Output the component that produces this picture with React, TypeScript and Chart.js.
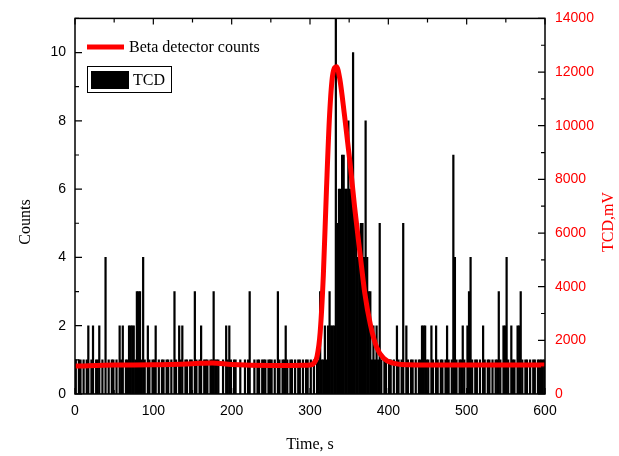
import React, { useEffect, useRef } from "react";
import { Chart, registerables } from "chart.js";

Chart.register(...registerables);

// TCD histogram: counts per 2-second bin, 0..600 s
const binSeconds = 2;
const counts: number[] = [
  // 0-20
  1, 0, 1, 1, 0, 1, 0, 1, 2, 0,
  // 20-40
  1, 2, 0, 1, 1, 2, 0, 1, 0, 4,
  // 40-60
  0, 1, 0, 1, 1, 0, 1, 0, 2, 1,
  // 60-80
  2, 0, 1, 1, 2, 2, 2, 2, 1, 3,
  // 80-100
  3, 3, 1, 4, 1, 0, 2, 1, 0, 1,
  // 100-120
  1, 2, 0, 1, 0, 1, 1, 0, 1, 1,
  // 120-140
  0, 1, 0, 3, 1, 0, 2, 1, 2, 0,
  // 140-160
  1, 1, 0, 1, 1, 0, 3, 1, 0, 1,
  // 160-180
  2, 0, 1, 1, 1, 0, 1, 1, 3, 1,
  // 180-200
  1, 1, 0, 0, 1, 0, 2, 1, 2, 1,
  // 200-220
  0, 1, 1, 0, 0, 1, 0, 0, 1, 0,
  // 220-240
  1, 3, 0, 0, 1, 0, 1, 1, 0, 1,
  // 240-260
  1, 1, 0, 1, 1, 1, 0, 1, 0, 3,
  // 260-280
  1, 0, 1, 1, 2, 1, 0, 1, 1, 0,
  // 280-300
  1, 0, 1, 1, 0, 1, 0, 1, 1, 0,
  // 300-320
  1, 0, 1, 0, 1, 1, 3, 1, 1, 2,
  // 320-340
  1, 2, 3, 2, 2, 2, 11, 5, 6, 6,
  // 340-360
  7, 7, 6, 6, 8, 6, 6, 10, 5, 5,
  // 360-380
  4, 4, 5, 5, 4, 8, 4, 3, 3, 1,
  // 380-400
  2, 1, 2, 1, 5, 1, 0, 1, 1, 0,
  // 400-420
  1, 1, 0, 1, 0, 2, 1, 0, 1, 5,
  // 420-440
  0, 2, 1, 0, 1, 1, 0, 1, 0, 1,
  // 440-460
  1, 2, 2, 2, 1, 1, 0, 2, 1, 0,
  // 460-480
  2, 1, 0, 1, 1, 0, 1, 2, 1, 0,
  // 480-500
  1, 7, 4, 1, 0, 1, 1, 2, 1, 0,
  // 500-520
  2, 3, 4, 1, 0, 1, 1, 0, 1, 0,
  // 520-540
  2, 1, 0, 1, 1, 0, 1, 0, 1, 1,
  // 540-560
  3, 1, 0, 2, 2, 4, 1, 0, 2, 1,
  // 560-580
  1, 0, 2, 2, 3, 1, 0, 1, 1, 0,
  // 580-600
  1, 0, 1, 1, 0, 1, 1, 1, 1, 1,
];

// Beta detector curve (right axis, mV)
const betaTimes: number[] = [
  0, 50, 100, 150, 175, 200, 250, 290, 300, 305, 309, 313, 317, 321, 325, 329,
  334, 338, 344, 351, 357, 364, 370, 377, 385, 394, 406, 425, 450, 500, 550, 600,
];
const betaValues: number[] = [
  1040, 1080, 1090, 1130, 1160, 1100, 1060, 1070, 1080, 1150, 1400, 2300, 4400,
  7600, 10400, 11900, 12200, 11750, 10400, 8650, 6950, 5200, 3750, 2600, 1750,
  1330, 1150, 1090, 1080, 1080, 1080, 1080,
];

const xTicks = [0, 100, 200, 300, 400, 500, 600];
const leftTicks = [0, 2, 4, 6, 8, 10];
const rightTicks = [0, 2000, 4000, 6000, 8000, 10000, 12000, 14000];

const RED = "#ff0000";
const SERIF = "'Liberation Serif', 'Times New Roman', serif";
const SANS = "'Liberation Sans', Arial, sans-serif";

const decorPlugin = {
  id: "decor",
  afterDraw(chart: any) {
    const { ctx, chartArea: a, scales } = chart;
    const x = scales.x;
    const y = scales.y;
    const y2 = scales.y2;
    ctx.save();
    // frame
    ctx.strokeStyle = "#000";
    ctx.lineWidth = 1.5;
    ctx.strokeRect(a.left, a.top, a.right - a.left, a.bottom - a.top);
    ctx.lineWidth = 1.2;
    ctx.beginPath();
    // x ticks (top & bottom, inward)
    for (let v = 0; v <= 600; v += 50) {
      const px = x.getPixelForValue(v);
      const len = v % 100 === 0 ? 6 : 4;
      ctx.moveTo(px, a.top);
      ctx.lineTo(px, a.top + len);
      ctx.moveTo(px, a.bottom);
      ctx.lineTo(px, a.bottom - len);
    }
    // left ticks inward
    for (let v = 0; v <= 11; v += 1) {
      const py = y.getPixelForValue(v);
      const len = v % 2 === 0 ? 7 : 4;
      ctx.moveTo(a.left, py);
      ctx.lineTo(a.left + len, py);
    }
    // right ticks inward
    for (let v = 0; v <= 14000; v += 1000) {
      const py = y2.getPixelForValue(v);
      const len = v % 2000 === 0 ? 7 : 4;
      ctx.moveTo(a.right, py);
      ctx.lineTo(a.right - len, py);
    }
    ctx.stroke();

    // legend
    ctx.strokeStyle = RED;
    ctx.lineWidth = 5;
    ctx.beginPath();
    ctx.moveTo(87, 47);
    ctx.lineTo(124, 47);
    ctx.stroke();
    ctx.fillStyle = "#000";
    ctx.font = `16px ${SERIF}`;
    ctx.textBaseline = "middle";
    ctx.textAlign = "left";
    ctx.fillText("Beta detector counts", 129, 48);
    ctx.strokeStyle = "#000";
    ctx.lineWidth = 1;
    ctx.strokeRect(87.5, 66.5, 84, 26);
    ctx.fillRect(91, 71, 38, 18);
    ctx.fillText("TCD", 133, 81);

    // axis titles
    ctx.font = `16px ${SERIF}`;
    ctx.textAlign = "center";
    ctx.fillStyle = "#000";
    ctx.fillText("Time, s", (a.left + a.right) / 2, 445);
    ctx.save();
    ctx.translate(26, 222);
    ctx.rotate(-Math.PI / 2);
    ctx.fillText("Counts", 0, 0);
    ctx.restore();
    ctx.save();
    ctx.translate(609, 222);
    ctx.rotate(-Math.PI / 2);
    ctx.fillStyle = RED;
    ctx.fillText("TCD,mV", 0, 0);
    ctx.restore();
    ctx.restore();
  },
};

export default function App() {
  const ref = useRef<HTMLCanvasElement | null>(null);
  useEffect(() => {
    if (!ref.current) return;
    const barData = counts.map((c, i) => ({ x: i * binSeconds + binSeconds / 2, y: c }));
    const lineData = betaTimes.map((t, i) => ({ x: t, y: betaValues[i] }));
    const chart = new Chart(ref.current, {
      type: "bar",
      data: {
        datasets: [
          {
            type: "line",
            label: "Beta detector counts",
            data: lineData,
            yAxisID: "y2",
            xAxisID: "x",
            borderColor: RED,
            backgroundColor: RED,
            borderWidth: 5,
            pointRadius: 0,
            cubicInterpolationMode: "monotone",
            order: 0,
          } as any,
          {
            type: "bar",
            label: "TCD",
            data: barData,
            yAxisID: "y",
            xAxisID: "x",
            backgroundColor: "#000",
            borderWidth: 0,
            barPercentage: 1,
            categoryPercentage: 1,
            order: 1,
          } as any,
        ],
      },
      options: {
        animation: false,
        responsive: false,
        maintainAspectRatio: false,
        layout: { padding: { top: 16, left: 0, right: 0, bottom: 0 } },
        plugins: { legend: { display: false }, tooltip: { enabled: false } },
        scales: {
          x: {
            type: "linear",
            position: "bottom",
            min: 0,
            max: 600,
            offset: false,
            grid: { display: false, drawTicks: false, offset: false },
            border: { display: false },
            afterBuildTicks: (s: any) => {
              s.ticks = xTicks.map((v) => ({ value: v }));
            },
            afterFit: (s: any) => {
              s.height = 62;
            },
            ticks: {
              padding: 9,
              maxRotation: 0,
              color: "#000",
              font: { family: SANS, size: 14 },
              callback: (v: any) => String(v),
            },
          },
          y: {
            type: "linear",
            position: "left",
            min: 0,
            max: 11,
            grid: { display: false, drawTicks: false },
            border: { display: false },
            afterBuildTicks: (s: any) => {
              s.ticks = leftTicks.map((v) => ({ value: v }));
            },
            afterFit: (s: any) => {
              s.width = 75;
            },
            ticks: {
              padding: 9,
              color: "#000",
              font: { family: SANS, size: 14 },
              callback: (v: any) => String(v),
            },
          },
          y2: {
            type: "linear",
            position: "right",
            min: 0,
            max: 14000,
            grid: { display: false, drawTicks: false },
            border: { display: false },
            afterBuildTicks: (s: any) => {
              s.ticks = rightTicks.map((v) => ({ value: v }));
            },
            afterFit: (s: any) => {
              s.width = 74;
            },
            ticks: {
              padding: 10,
              color: RED,
              font: { family: SANS, size: 14 },
              callback: (v: any) => String(v),
            },
          },
        },
      },
      plugins: [decorPlugin],
    });
    return () => chart.destroy();
  }, []);
  return (
    <div style={{ position: "fixed", left: 0, top: 0, width: 619, height: 456, background: "#fff" }}>
      <canvas ref={ref} width={619} height={456} style={{ display: "block" }} />
    </div>
  );
}
